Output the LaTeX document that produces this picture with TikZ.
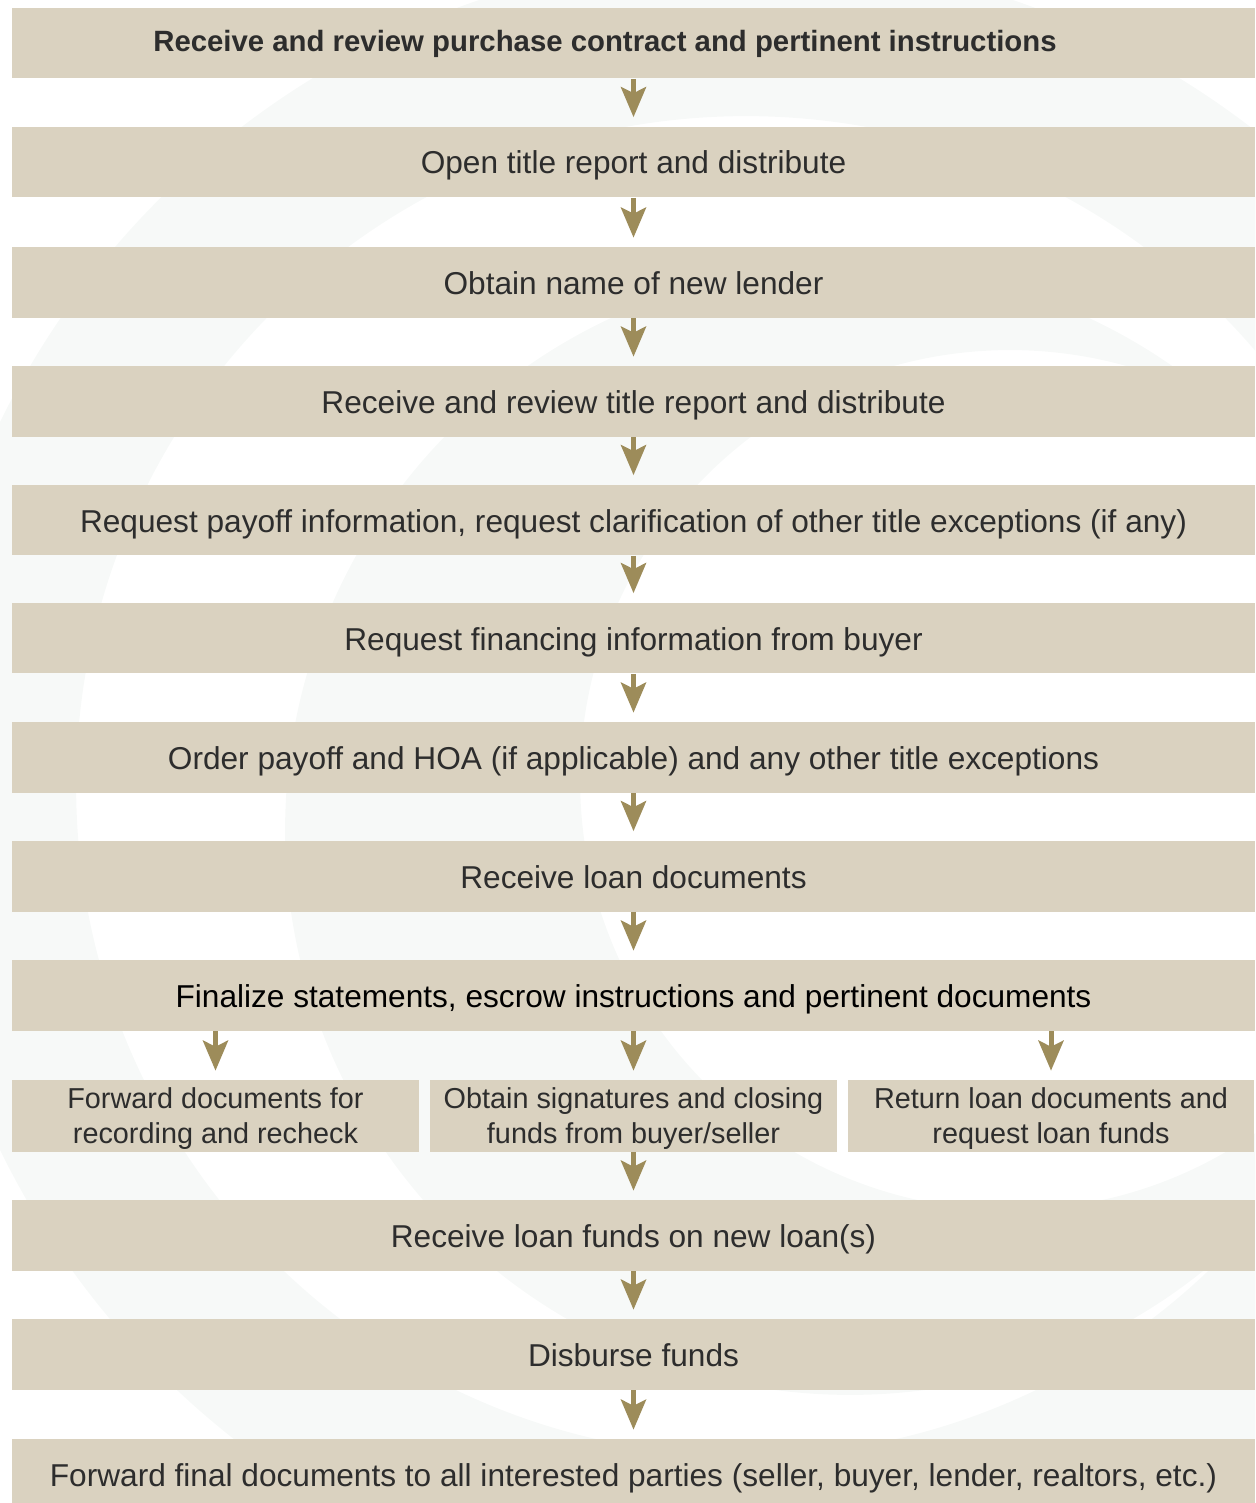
\documentclass[tikz,border=0pt]{standalone}
\usepackage{fontspec}
\setmainfont{Liberation Sans}
\usetikzlibrary{arrows.meta}
\definecolor{stepfill}{RGB}{218,210,192}
\definecolor{arrowcol}{RGB}{157,140,90}
\definecolor{textcol}{RGB}{45,45,45}
\definecolor{markcol}{RGB}{247,249,248}

\begin{document}
\begin{tikzpicture}[
  x=0.02cm, y=-0.02cm,
  stepbox/.style={                          % full-width step: beige band
    fill=stepfill, draw=none, rectangle,
    minimum width=24.86cm, minimum height=1.42cm, inner sep=0pt,
    text height=0.48cm, text depth=0pt,
    text=textcol, font=\fontsize{18}{22}\selectfont
  },
  subbox/.style={                           % one of the three parallel steps
    stepbox, minimum width=8.14cm, minimum height=1.44cm,
    text height=, text depth=-0.08cm,
    align=center, font=\fontsize{16.4}{19.9}\selectfont
  },
  flow/.style={
    draw=arrowcol, line width=0.1cm,
    -{Stealth[length=0.6cm,width=0.5cm,inset=0.12cm]}, shorten >=0.18cm
  },
]
\useasboundingbox (0,0) rectangle (1255,1503);

% ---- Faint logo in the background ----
\begin{scope}
  \clip (0,0) rectangle (1255,1503);
  \fill[markcol, even odd rule] (746,786) circle[radius=16.6cm]
                                (746,786) circle[radius=13.4cm];
  \fill[markcol, even odd rule] (850,830) circle[radius=11.3cm]
                                (1010,780) circle[radius=8.6cm];
\end{scope}

% ---- Steps ----
\node (b1)  at (633.5,  43.0) [stepbox, text height=0.36cm,
                               font=\fontsize{16.7}{20}\selectfont\bfseries]
  {\hspace*{-1.14cm}Receive and review purchase contract and pertinent instructions};
\node (b2)  at (633.5, 162.0) [stepbox] {Open title report and distribute};
\node (b3)  at (633.5, 282.5) [stepbox] {Obtain name of new lender};
\node (b4)  at (633.5, 401.5) [stepbox] {Receive and review title report and distribute};
\node (b5)  at (633.5, 520.0) [stepbox]
  {Request payoff information, request clarification of other title exceptions (if any)};
\node (b6)  at (633.5, 638.0) [stepbox] {Request financing information from buyer};
\node (b7)  at (633.5, 757.5) [stepbox]
  {Order payoff and HOA (if applicable) and any other title exceptions};
\node (b8)  at (633.5, 876.0) [stepbox] {Receive loan documents};
\node (b9)  at (633.5, 995.5) [stepbox, text=black]
  {Finalize statements, escrow instructions and pertinent documents};

\node (s1)  at (215.5,1116.0) [subbox] {Forward documents for\\recording and recheck};
\node (s2)  at (633.5,1116.0) [subbox] {Obtain signatures and closing\\funds from buyer/seller};
\node (s3)  at (1051.0,1116.0) [subbox] {Return loan documents and\\request loan funds};

\node (b10) at (633.5,1235.5) [stepbox] {Receive loan funds on new loan(s)};
\node (b11) at (633.5,1354.5) [stepbox] {Disburse funds};
\node (b12) at (633.5,1474.5) [stepbox]
  {Forward final documents to all interested parties (seller, buyer, lender, realtors, etc.)};

% ---- Arrows ----
\foreach \p/\c in {b1/b2, b2/b3, b3/b4, b4/b5, b5/b6, b6/b7, b7/b8, b8/b9,
                   b9/s2, s2/b10, b10/b11, b11/b12}
  \draw[flow] (\p) -- (\c);
\draw[flow] (b9.south -| s1) -- (s1);
\draw[flow] (b9.south -| s3) -- (s3);

\end{tikzpicture}
\end{document}
